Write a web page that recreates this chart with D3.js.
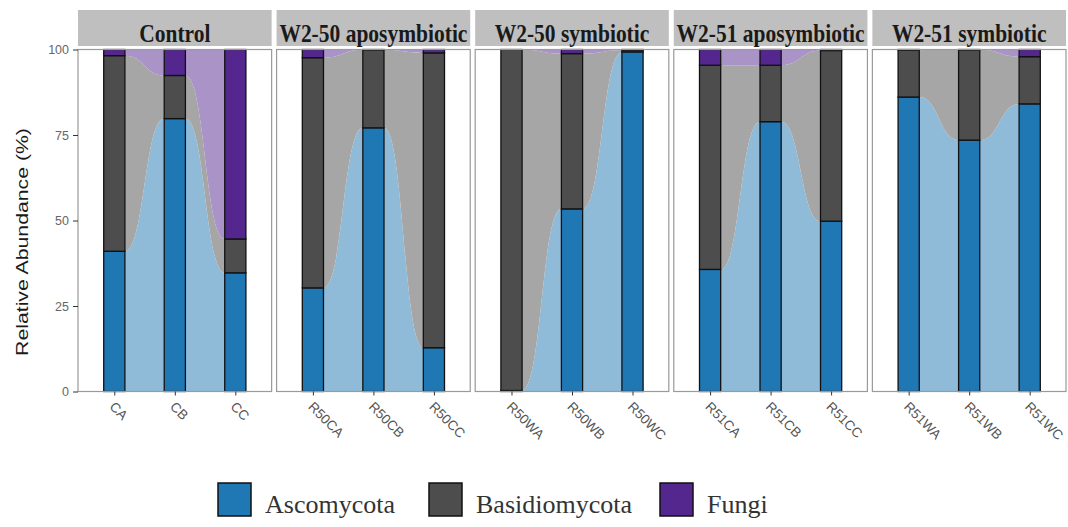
<!DOCTYPE html>
<html>
<head>
<meta charset="utf-8">
<script src="https://cdn.jsdelivr.net/npm/d3@7"></script>
<style>
  body { margin: 0; background: #fff; }
  svg { display: block; }
</style>
</head>
<body>
<div id="chart"></div>
<script>
// facets and samples
var panels = ["Control", "W2-50 aposymbiotic", "W2-50 symbiotic", "W2-51 aposymbiotic", "W2-51 symbiotic"];
var samples = [
    ["CA", "CB", "CC"],
    ["R50CA", "R50CB", "R50CC"],
    ["R50WA", "R50WB", "R50WC"],
    ["R51CA", "R51CB", "R51CC"],
    ["R51WA", "R51WB", "R51WC"]
];
var phyla = ["Ascomycota", "Basidiomycota", "Fungi"];

// relative abundance (%) per sample, same order as samples
var ascomycota    = [41.0, 79.8, 34.7,  30.3, 77.1, 12.8,  0.3, 53.4, 99.3,  35.7, 78.9, 49.8,  86.1, 73.5, 84.1];
var basidiomycota = [57.2, 12.6,  9.9,  67.3, 22.8, 86.2, 99.7, 45.4,  0.5,  59.7, 16.5, 49.9,  13.7, 26.4, 13.8];
var fungi         = [ 1.8,  7.6, 55.4,   2.4,  0.1,  1.0,  0.0,  1.2,  0.2,   4.6,  4.6,  0.3,   0.2,  0.1,  2.1];

var yTicks = [0, 25, 50, 75, 100];

var barColor  = ["#1f77b4", "#4d4d4d", "#54278f"];
var flowColor = ["#8fbbd9", "#a6a6a6", "#aa93c7"];

var W = 1068, H = 527;
var plotTop = 49.5, plotBottom = 391.5;

var svg = d3.select("#chart").append("svg")
    .attr("width", W)
    .attr("height", H);

var y = d3.scaleLinear().domain([0, 100]).range([plotBottom, plotTop]);
var px = d3.scaleBand().domain(panels).range([78, 1066]).paddingInner(0.025);

// one row per sample, then stacked
var rows = [];
var n = 0;
samples.forEach(function(s, i) {
    s.forEach(function(name) {
        rows.push({panel: panels[i], sample: name,
            Ascomycota: ascomycota[n], Basidiomycota: basidiomycota[n], Fungi: fungi[n]});
        n++;
    });
});
var stacked = d3.stack().keys(phyla)(rows);

panels.forEach(function(p, i) {
    var g = svg.append("g").attr("transform", "translate(" + px(p) + ",0)");
    var bw = px.bandwidth();
    var x = d3.scalePoint().domain(samples[i]).range([0, bw]).padding(0.6);
    var barW = x.step() * 0.35;

    // strip
    g.append("rect")
        .attr("x", 0).attr("y", 10)
        .attr("width", bw).attr("height", 36)
        .attr("fill", "#bfbfbf");
    g.append("text")
        .attr("transform", "translate(" + (bw / 2) + ",42) scale(1,1.2)")
        .attr("text-anchor", "middle")
        .attr("font-family", "Liberation Serif, serif")
        .attr("font-weight", "bold")
        .attr("font-size", 21.5)
        .attr("fill", "#1a1a1a")
        .text(p);

    // panel bg
    g.append("rect")
        .attr("x", 0).attr("y", plotTop)
        .attr("width", bw).attr("height", plotBottom - plotTop)
        .attr("fill", "#fff");

    var idx = rows.map(function(r, k) { return k; }).filter(function(k) { return rows[k].panel == p; });

    // flows between neighbouring bars
    for (let j = 0; j < idx.length - 1; j++) {
        var a = idx[j], b = idx[j + 1];
        var x1 = x(rows[a].sample) + barW / 2;
        var x2 = x(rows[b].sample) - barW / 2;
        var xm = (x1 + x2) / 2;
        stacked.forEach(function(layer, k) {
            var lo1 = y(layer[a][0]), hi1 = y(layer[a][1]);
            var lo2 = y(layer[b][0]), hi2 = y(layer[b][1]);
            var path = d3.path();
            path.moveTo(x1, lo1);
            path.bezierCurveTo(xm, lo1, xm, lo2, x2, lo2);
            path.lineTo(x2, hi2);
            path.bezierCurveTo(xm, hi2, xm, hi1, x1, hi1);
            path.closePath();
            g.append("path")
                .attr("d", path.toString())
                .attr("fill", flowColor[k]);
        });
    }

    // bars
    stacked.forEach(function(layer, k) {
        idx.forEach(function(r) {
            var d = layer[r];
            if (d[1] - d[0] <= 0) return;
            g.append("rect")
                .attr("x", x(rows[r].sample) - barW / 2)
                .attr("y", y(d[1]))
                .attr("width", barW)
                .attr("height", y(d[0]) - y(d[1]))
                .attr("fill", barColor[k])
                .attr("stroke", "#111")
                .attr("stroke-width", 1.3);
        });
    });

    // border
    g.append("rect")
        .attr("x", 0).attr("y", plotTop)
        .attr("width", bw).attr("height", plotBottom - plotTop)
        .attr("fill", "none")
        .attr("stroke", "#9a9a9a")
        .attr("stroke-width", 1.2);

    // x axis
    var xAxis = d3.axisBottom(x).tickSize(4).tickPadding(6);
    var ax = g.append("g")
        .attr("transform", "translate(0," + plotBottom + ")")
        .call(xAxis);
    ax.select(".domain").remove();
    ax.selectAll("line").attr("stroke", "#333");
    ax.selectAll("text")
        .attr("font-family", "Liberation Sans, Arial, sans-serif")
        .attr("font-size", 13.5)
        .attr("fill", "#555")
        .attr("text-anchor", "start")
        .attr("dy", null)
        .attr("y", null)
        .attr("transform", "translate(-6,16) rotate(45)");
});

// y axis
var yAxis = d3.axisLeft(y).tickValues(yTicks).tickSize(5).tickPadding(4);
var ay = svg.append("g")
    .attr("transform", "translate(78,0)")
    .call(yAxis);
ay.select(".domain").remove();
ay.selectAll("line").attr("stroke", "#333");
ay.selectAll("text")
    .attr("font-family", "Liberation Sans, Arial, sans-serif")
    .attr("font-size", 12.5)
    .attr("fill", "#666");

svg.append("text")
    .attr("transform", "translate(28,242) rotate(-90) scale(1.25,1)")
    .attr("text-anchor", "middle")
    .attr("font-family", "Liberation Sans, Arial, sans-serif")
    .attr("font-size", 17)
    .attr("fill", "#1a1a1a")
    .text("Relative Abundance (%)");

// legend
var legX = [218, 429, 660];
var leg = svg.append("g");
phyla.forEach(function(name, k) {
    leg.append("rect")
        .attr("x", legX[k]).attr("y", 483)
        .attr("width", 33).attr("height", 33)
        .attr("fill", barColor[k])
        .attr("stroke", "#111")
        .attr("stroke-width", 1.5);
    leg.append("text")
        .attr("x", legX[k] + 47).attr("y", 513)
        .attr("font-family", "Liberation Serif, serif")
        .attr("font-size", 26)
        .attr("fill", "#333")
        .text(name);
});
</script>
</body>
</html>
